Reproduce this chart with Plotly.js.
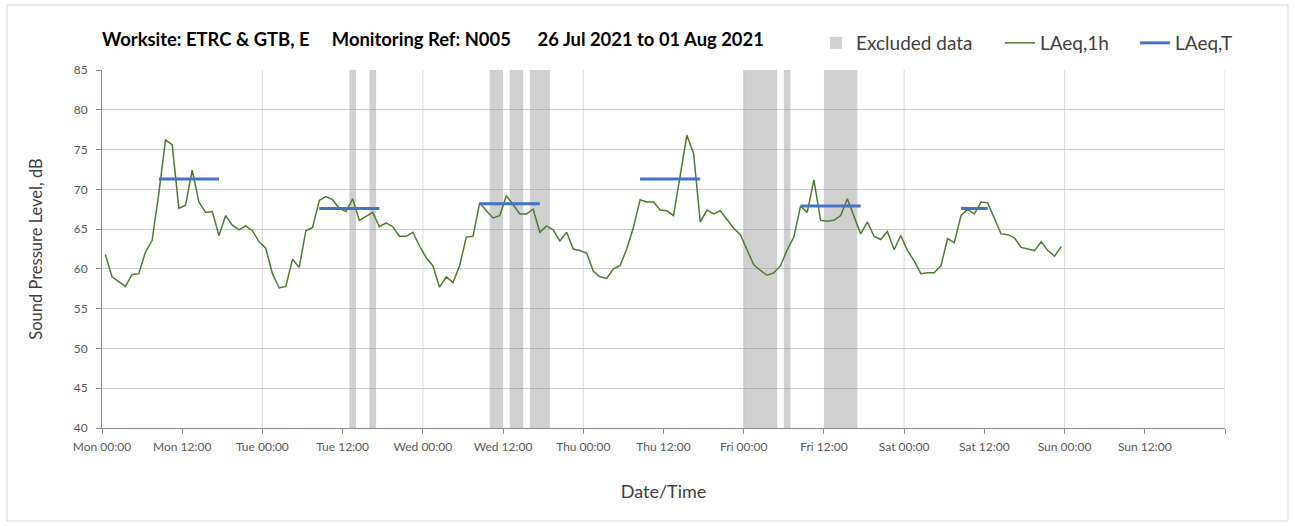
<!DOCTYPE html>
<html>
<head>
<meta charset="utf-8">
<script src="https://cdn.plot.ly/plotly-3.0.1.min.js"></script>
<style>
  html, body { margin: 0; padding: 0; background: #ffffff; }
  #chart { width: 1295px; height: 526px; }
</style>
</head>
<body>
<div id="chart"></div>
<script>
// ---------------- DATA ----------------
// Hourly LAeq,1h values, first value is the hour Mon 26 Jul 2021 00:00-01:00 (plotted at hour centre)
const seriesStart = '2021-07-26 00:30';
const laeq1h = [
  61.8, 59.0, 58.4, 57.8, 59.3, 59.4, 62.1, 63.6, 69.5, 76.2, 75.6, 67.6,
  68.0, 72.4, 68.4, 67.1, 67.2, 64.2, 66.7, 65.5, 64.9, 65.4, 64.8, 63.4,
  62.6, 59.4, 57.6, 57.8, 61.2, 60.2, 64.8, 65.2, 68.6, 69.1, 68.7, 67.6,
  67.2, 68.8, 66.1, 66.6, 67.1, 65.3, 65.8, 65.3, 64.1, 64.1, 64.6, 62.9,
  61.4, 60.4, 57.7, 59.0, 58.3, 60.4, 64.0, 64.1, 68.3, 67.3, 66.4, 66.7,
  69.2, 68.1, 66.9, 66.9, 67.5, 64.6, 65.4, 64.9, 63.5, 64.6, 62.5, 62.3,
  62.0, 59.7, 59.0, 58.8, 60.0, 60.4, 62.5, 65.2, 68.7, 68.4, 68.4, 67.4,
  67.3, 66.7, 71.5, 76.8, 74.5, 65.9, 67.4, 66.9, 67.3, 66.2, 65.1, 64.3,
  62.3, 60.5, 59.8, 59.2, 59.5, 60.4, 62.4, 64.0, 67.9, 67.1, 71.2, 66.1,
  66.0, 66.1, 66.7, 68.8, 66.6, 64.4, 65.9, 64.1, 63.7, 64.7, 62.4, 64.2,
  62.3, 61.0, 59.4, 59.5, 59.5, 60.4, 63.8, 63.3, 66.7, 67.5, 66.9, 68.4,
  68.3, 66.4, 64.4, 64.3, 63.9, 62.7, 62.5, 62.3, 63.4, 62.3, 61.6, 62.8
];

// Excluded data periods
const excludedStart = ['2021-07-27 13:00', '2021-07-27 16:00', '2021-07-28 10:00', '2021-07-28 13:00',
                       '2021-07-28 16:00', '2021-07-30 00:00', '2021-07-30 06:00', '2021-07-30 12:00'];
const excludedHours = [1, 1, 2, 2, 3, 5, 1, 5];

// LAeq,T working periods
const periodStart = ['2021-07-26 08:00', '2021-07-27 08:00', '2021-07-28 08:00',
                     '2021-07-29 08:00', '2021-07-30 08:00', '2021-07-31 08:00'];
const periodHours = [10, 10, 10, 10, 10, 5];
const laeqT = [71.3, 67.6, 68.2, 71.3, 67.9, 67.6];

// Axis
const axisStart = '2021-07-26 00:00';
const tickLabels = ['Mon 00:00', 'Mon 12:00', 'Tue 00:00', 'Tue 12:00', 'Wed 00:00', 'Wed 12:00',
                    'Thu 00:00', 'Thu 12:00', 'Fri 00:00', 'Fri 12:00', 'Sat 00:00', 'Sat 12:00',
                    'Sun 00:00', 'Sun 12:00', ''];
const yRange = [40, 85];

// ---------------- HELPERS ----------------
const HOUR = 3600000;
function toMs(s) {
  const [d, t] = s.split(' ');
  const [Y, M, D] = d.split('-').map(Number);
  const [h, m] = t.split(':').map(Number);
  return Date.UTC(Y, M - 1, D, h, m);
}
function fmt(ms) {
  const d = new Date(ms);
  const p = n => String(n).padStart(2, '0');
  return d.getUTCFullYear() + '-' + p(d.getUTCMonth() + 1) + '-' + p(d.getUTCDate()) + ' ' +
         p(d.getUTCHours()) + ':' + p(d.getUTCMinutes());
}

const t0 = toMs(seriesStart);
const xLine = laeq1h.map((_, i) => fmt(t0 + i * HOUR));

const xBar = excludedStart.map((s, i) => fmt(toMs(s) + excludedHours[i] * HOUR / 2));
const wBar = excludedHours.map(h => h * HOUR);

const xT = [], yT = [];
periodStart.forEach((s, i) => {
  const a = toMs(s);
  xT.push(fmt(a + HOUR / 2), fmt(a + periodHours[i] * HOUR - HOUR / 2), null);
  yT.push(laeqT[i], laeqT[i], null);
});

const a0 = toMs(axisStart);
const tickVals = tickLabels.map((_, i) => fmt(a0 + i * 12 * HOUR));
const axisEnd = tickVals[tickVals.length - 1];

// day gridlines (every 24 h)
const shapes = [];
tickVals.forEach((v, i) => {
  if (i > 0 && i % 2 === 0) {
    shapes.push({type: 'line', xref: 'x', yref: 'paper', x0: v, x1: v, y0: 0, y1: 1,
                 line: {color: '#d9d9d9', width: 1}, layer: 'below'});
  }
});
// outer chart border
shapes.push({type: 'rect', xref: 'paper', yref: 'paper',
             x0: -0.0846, x1: 1.0561, y0: -0.2598, y1: 1.1816,
             line: {color: '#d9d9d9', width: 1}, fillcolor: 'rgba(0,0,0,0)', layer: 'below'});

const traces = [
  {
    type: 'bar', name: 'Excluded data', x: xBar, y: excludedHours.map(() => yRange[1] - yRange[0]),
    base: yRange[0], width: wBar,
    marker: {color: 'rgba(150,150,150,0.45)', line: {width: 0}},
    legend: 'legend', hoverinfo: 'skip'
  },
  {
    type: 'scatter', mode: 'lines', name: 'LAeq,1h', x: xLine, y: laeq1h,
    line: {color: '#4f7a33', width: 1.5},
    legend: 'legend2', hoverinfo: 'skip'
  },
  {
    type: 'scatter', mode: 'lines', name: 'LAeq,T', x: xT, y: yT, connectgaps: false,
    line: {color: '#4472c4', width: 3},
    legend: 'legend3', hoverinfo: 'skip'
  }
];

const legendCommon = {orientation: 'h', yanchor: 'middle', y: 1.0754, xanchor: 'left',
                      font: {size: 19, color: '#404040', family: 'Lato, sans-serif'},
                      bgcolor: 'rgba(0,0,0,0)', borderwidth: 0};

const layout = {
  width: 1295, height: 526,
  margin: {l: 102, r: 70, t: 70, b: 98, pad: 0},
  paper_bgcolor: '#ffffff', plot_bgcolor: '#ffffff',
  font: {family: 'Lato, sans-serif', color: '#595959'},
  showlegend: true,
  hovermode: false,
  barmode: 'overlay',
  title: {
    text: '<b>Worksite: ETRC & GTB, E\u00a0\u00a0\u00a0\u00a0 Monitoring Ref: N005\u00a0\u00a0\u00a0\u00a0\u00a0 26 Jul 2021 to 01 Aug 2021</b>',
    xref: 'paper', x: 0, xanchor: 'left',
    yref: 'container', y: 1 - 40 / 526, yanchor: 'middle',
    font: {size: 18.4, color: '#000000', family: 'Lato, sans-serif'}
  },
  legend: Object.assign({}, legendCommon, {x: 0.6358}),
  legend2: Object.assign({}, legendCommon, {x: 0.7996}),
  legend3: Object.assign({}, legendCommon, {x: 0.9199}),
  xaxis: {
    type: 'date', range: [axisStart, axisEnd],
    tickmode: 'array', tickvals: tickVals, ticktext: tickLabels,
    showgrid: false, zeroline: false,
    showline: true, linecolor: '#8c8c8c', linewidth: 1,
    ticks: 'outside', ticklen: 5, tickcolor: '#8c8c8c', ticklabelstandoff: 3,
    tickfont: {size: 12, color: '#595959'},
    title: {text: 'Date/Time', font: {size: 18, color: '#404040'}, standoff: 31}
  },
  yaxis: {
    range: yRange, tick0: 40, dtick: 5,
    showgrid: true, gridcolor: '#cdcdcd', gridwidth: 1, zeroline: false,
    showline: true, linecolor: '#8c8c8c', linewidth: 1,
    ticks: 'outside', ticklen: 5, tickcolor: '#8c8c8c', ticklabelstandoff: 6,
    tickfont: {size: 12, color: '#595959'},
    title: {text: 'Sound Pressure Level, dB', font: {size: 16.5, color: '#404040'}, standoff: 26}
  },
  shapes: shapes
};

Plotly.newPlot('chart', traces, layout, {displayModeBar: false, staticPlot: true});
</script>
</body>
</html>
